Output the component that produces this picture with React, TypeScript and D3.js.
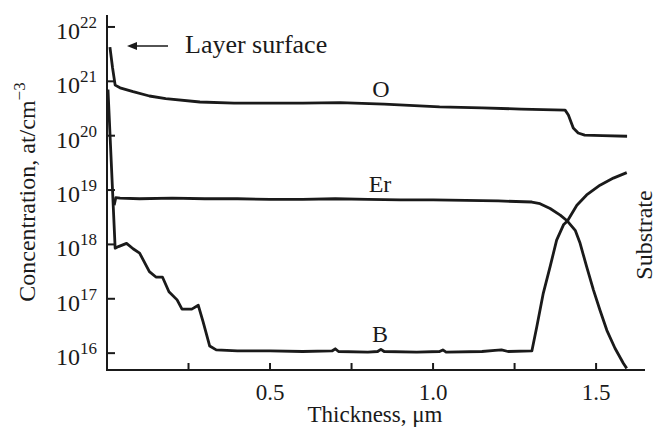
import React, { useRef, useEffect } from 'react';
import * as d3 from 'd3';

// thickness (um) and log10 concentration (at/cm^3)
const oThick = [0.009, 0.017, 0.025, 0.04, 0.08, 0.13, 0.18, 0.285, 0.39, 0.5, 0.6, 0.715, 0.85, 1.02, 1.15, 1.27, 1.405, 1.415, 1.43, 1.445, 1.465, 1.52, 1.595];
const oLog = [21.63, 21.25, 20.93, 20.88, 20.81, 20.73, 20.68, 20.62, 20.6, 20.6, 20.6, 20.61, 20.58, 20.53, 20.51, 20.49, 20.47, 20.38, 20.14, 20.05, 20.01, 20.0, 19.99];

const erThick = [0.022, 0.027, 0.04, 0.1, 0.2, 0.3, 0.4, 0.5, 0.6, 0.7, 0.8, 0.9, 1.0, 1.1, 1.2, 1.303, 1.328, 1.359, 1.39, 1.412, 1.436, 1.451, 1.471, 1.492, 1.512, 1.533, 1.558, 1.584, 1.594];
const erLog = [18.72, 18.86, 18.85, 18.84, 18.85, 18.84, 18.84, 18.83, 18.83, 18.84, 18.83, 18.82, 18.82, 18.81, 18.8, 18.78, 18.75, 18.66, 18.54, 18.43, 18.26, 18.02, 17.59, 17.16, 16.79, 16.42, 16.09, 15.81, 15.72];

const bThick = [0.003, 0.025, 0.035, 0.06, 0.08, 0.1, 0.13, 0.15, 0.17, 0.19, 0.215, 0.23, 0.26, 0.28, 0.295, 0.315, 0.335, 0.4, 0.5, 0.6, 0.69, 0.7, 0.71, 0.8, 0.83, 0.84, 0.85, 0.95, 1.02, 1.03, 1.04, 1.15, 1.19, 1.21, 1.23, 1.303, 1.318, 1.338, 1.359, 1.379, 1.4, 1.412, 1.441, 1.471, 1.512, 1.553, 1.594];
const bLog = [20.85, 17.93, 17.96, 18.02, 17.92, 17.84, 17.5, 17.4, 17.4, 17.13, 16.98, 16.81, 16.81, 16.88, 16.57, 16.13, 16.06, 16.04, 16.04, 16.03, 16.04, 16.08, 16.03, 16.02, 16.03, 16.07, 16.03, 16.02, 16.03, 16.06, 16.02, 16.03, 16.05, 16.06, 16.03, 16.04, 16.48, 17.1, 17.59, 18.08, 18.36, 18.43, 18.72, 18.91, 19.09, 19.22, 19.32];

const yTickExps = [16, 17, 18, 19, 20, 21, 22];
const xTicks = [0.25, 0.5, 0.75, 1.0, 1.25, 1.5];
const xTickLabels = ['', '0.5', '', '1.0', '', '1.5'];

const FONT = '"Liberation Serif", "Times New Roman", serif';
const INK = '#1a1a1a';

const App = () => {
  const svgRef = useRef(null);

  useEffect(() => {
    const svg = d3.select(svgRef.current);
    svg.selectAll('*').remove();

    const x = d3.scaleLinear().domain([0, 1.65]).range([107, 645]);
    const y = d3.scaleLog().domain([Math.pow(10, 15.69), Math.pow(10, 22.22)]).range([370, 15]);

    const line = d3.line<[number, number]>()
      .x(d => x(d[0]))
      .y(d => y(Math.pow(10, d[1])));

    const series = [
      d3.zip(oThick, oLog),
      d3.zip(erThick, erLog),
      d3.zip(bThick, bLog),
    ];
    svg.selectAll('path.profile')
      .data(series)
      .enter().append('path')
      .attr('class', 'profile')
      .attr('d', d => line(d as [number, number][]))
      .attr('fill', 'none')
      .attr('stroke', INK)
      .attr('stroke-width', 2.8)
      .attr('stroke-linejoin', 'round');

    // axes: only left and bottom, ticks pointing inward
    const axes = svg.append('g').attr('stroke', INK).attr('stroke-width', 2);
    axes.append('line').attr('x1', 107).attr('x2', 107).attr('y1', 15).attr('y2', 371);
    axes.append('line').attr('x1', 106).attr('x2', 645).attr('y1', 370).attr('y2', 370);

    yTickExps.forEach(e => {
      const py = y(Math.pow(10, e));
      axes.append('line').attr('x1', 107).attr('x2', 115).attr('y1', py).attr('y2', py);
      const t = svg.append('text')
        .attr('x', 97).attr('y', py + 12)
        .attr('text-anchor', 'end')
        .style('font-family', FONT).style('font-size', '24px').style('fill', INK);
      t.append('tspan').text('10');
      t.append('tspan').attr('dy', -11).style('font-size', '17px').text(String(e));
    });

    xTicks.forEach((v, i) => {
      const px = x(v);
      axes.append('line').attr('x1', px).attr('x2', px).attr('y1', 370).attr('y2', 363);
      if (xTickLabels[i]) {
        svg.append('text')
          .attr('x', px).attr('y', 400)
          .attr('text-anchor', 'middle')
          .style('font-family', FONT).style('font-size', '23px').style('fill', INK)
          .text(xTickLabels[i]);
      }
    });

    // axis titles
    svg.append('text')
      .attr('x', 375).attr('y', 422)
      .attr('text-anchor', 'middle')
      .style('font-family', FONT).style('font-size', '23px').style('fill', INK)
      .text('Thickness, μm');

    const yt = svg.append('text')
      .attr('transform', 'translate(35,192) rotate(-90)')
      .attr('text-anchor', 'middle')
      .style('font-family', FONT).style('font-size', '24px').style('fill', INK);
    yt.append('tspan').text('Concentration, at/cm');
    yt.append('tspan').attr('dy', -10).style('font-size', '17px').text('−3');

    svg.append('text')
      .attr('transform', 'translate(652,235) rotate(-90)')
      .attr('text-anchor', 'middle')
      .style('font-family', FONT).style('font-size', '24px').style('fill', INK)
      .text('Substrate');

    // series labels
    const labels = [
      { t: 'O', x: 381, y: 97 },
      { t: 'Er', x: 380, y: 192 },
      { t: 'B', x: 380, y: 342 },
    ];
    labels.forEach(l => {
      svg.append('text')
        .attr('x', l.x).attr('y', l.y)
        .attr('text-anchor', 'middle')
        .style('font-family', FONT).style('font-size', '24px').style('fill', INK)
        .text(l.t);
    });

    // layer surface annotation with arrow
    svg.append('line')
      .attr('x1', 168).attr('x2', 134).attr('y1', 46).attr('y2', 46)
      .attr('stroke', INK).attr('stroke-width', 1.6);
    svg.append('path')
      .attr('d', 'M127,46 L137,42 L137,50 Z')
      .attr('fill', INK);
    svg.append('text')
      .attr('x', 185).attr('y', 53)
      .style('font-family', FONT).style('font-size', '26px').style('fill', INK)
      .text('Layer surface');
  }, []);

  return (
    <svg ref={svgRef} width={657} height={445}
      style={{ position: 'absolute', left: 0, top: 0, background: '#fff' }} />
  );
};

export default App;
